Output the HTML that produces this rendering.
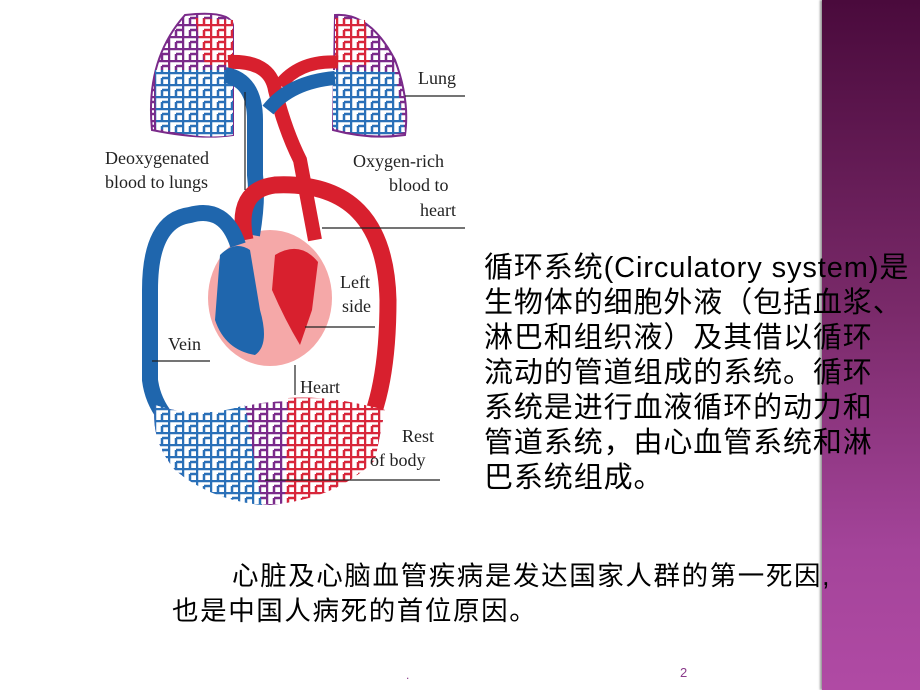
<!DOCTYPE html>
<html><head><meta charset="utf-8"><style>
html,body{margin:0;padding:0}
body{width:920px;height:690px;position:relative;overflow:hidden;background:#fff;font-family:"Liberation Sans","Noto Sans CJK SC",sans-serif}
.bar{position:absolute;left:822px;top:0;width:98px;height:690px;background:linear-gradient(#4a0a3c,#7a2a6a 45%,#a4449a 80%,#b04aa4);box-shadow:-2px 0 2px #999}
.t{position:absolute;left:484px;top:251px;font-size:29px;line-height:35px;color:#000;white-space:nowrap;letter-spacing:0.9px;z-index:2}
.b{position:absolute;font-size:26.5px;color:#000;white-space:nowrap;letter-spacing:1.6px;z-index:2}
.lab{font-family:"Liberation Serif",serif;font-size:18px;fill:#222}
</style></head><body>
<div class="bar"></div>
<svg width="820" height="690" style="position:absolute;left:0;top:0">
<defs>
<pattern id="mr" width="14" height="12" patternUnits="userSpaceOnUse"><rect width="14" height="12" fill="#fff"/><path d="M0 1H14M1 0V12M8 6H14M8 6V12" stroke="#d8263a" stroke-width="2.5"/></pattern>
<pattern id="mb" width="14" height="12" patternUnits="userSpaceOnUse"><rect width="14" height="12" fill="#fff"/><path d="M0 1H14M1 0V12M8 6H14M8 6V12" stroke="#2a70b8" stroke-width="2.5"/></pattern>
<pattern id="mp" width="14" height="12" patternUnits="userSpaceOnUse"><rect width="14" height="12" fill="#fff"/><path d="M0 1H14M1 0V12M8 6H14M8 6V12" stroke="#7a2a8a" stroke-width="2.5"/></pattern>
</defs>
<path d="M185 15 Q230 10 233 25 L233 135 Q200 140 152 130 Q145 60 185 15Z" fill="url(#mp)" stroke="#7a2a8a" stroke-width="2"/>
<path d="M195 18 L233 20 L233 65 L205 65Z" fill="url(#mr)"/>
<path d="M155 70 L233 70 L233 135 Q200 140 156 128Z" fill="url(#mb)"/>
<path d="M335 15 Q370 12 395 60 Q410 100 405 135 Q370 140 333 130Z" fill="url(#mp)" stroke="#7a2a8a" stroke-width="2"/>
<path d="M335 18 L365 20 L370 65 L335 65Z" fill="url(#mr)"/>
<path d="M333 70 L395 72 L405 132 Q370 140 333 128Z" fill="url(#mb)"/>
<ellipse cx="270" cy="298" rx="62" ry="68" fill="#f5a8a8"/>
<path d="M228 62 Q270 60 275 90 Q285 130 300 160 L315 240" fill="none" stroke="#d8202e" stroke-width="14"/>
<path d="M338 62 Q300 60 280 85" fill="none" stroke="#d8202e" stroke-width="13"/>
<path d="M225 75 Q255 80 255 120 L255 175 Q258 200 252 235" fill="none" stroke="#1f66ad" stroke-width="16"/>
<path d="M335 78 Q290 82 268 110" fill="none" stroke="#1f66ad" stroke-width="14"/>
<path d="M245 240 Q235 190 275 185 Q385 180 388 300 Q388 440 330 470" fill="none" stroke="#d8202e" stroke-width="17"/>
<path d="M238 245 Q225 205 190 215 Q150 220 150 290 L150 380 Q155 420 200 445" fill="none" stroke="#1f66ad" stroke-width="16"/>
<path d="M220 255 Q235 240 250 250 L260 310 Q270 345 255 355 Q225 350 215 320Z" fill="#1f66ad"/>
<path d="M275 255 Q300 240 318 262 L312 310 L300 345 Q285 320 272 290Z" fill="#d8202e"/>
<path d="M155 405 Q200 420 250 405 Q300 395 385 410 L375 460 Q330 500 270 505 Q210 500 175 470 Q150 440 155 405Z" fill="url(#mp)"/>
<path d="M155 405 Q200 420 245 405 L262 505 Q210 500 175 470 Q150 440 155 405Z" fill="url(#mb)"/>
<path d="M288 398 Q330 395 385 410 L375 460 Q340 495 285 503Z" fill="url(#mr)"/>
<g stroke="#222" stroke-width="1.2">
<line x1="245" y1="92" x2="245" y2="190"/>
<line x1="405" y1="96" x2="465" y2="96"/>
<line x1="322" y1="228" x2="465" y2="228"/>
<line x1="305" y1="327" x2="375" y2="327"/>
<line x1="152" y1="361" x2="210" y2="361"/>
<line x1="295" y1="365" x2="295" y2="395"/>
<line x1="265" y1="480" x2="440" y2="480"/>
</g>
<text class="lab" x="418" y="84">Lung</text>
<text class="lab" x="105" y="164">Deoxygenated</text>
<text class="lab" x="105" y="188">blood to lungs</text>
<text class="lab" x="353" y="167">Oxygen-rich</text>
<text class="lab" x="389" y="191">blood to</text>
<text class="lab" x="420" y="216">heart</text>
<text class="lab" x="340" y="288">Left</text>
<text class="lab" x="342" y="312">side</text>
<text class="lab" x="168" y="350">Vein</text>
<text class="lab" x="300" y="393">Heart</text>
<text class="lab" x="402" y="442">Rest</text>
<text class="lab" x="370" y="466">of body</text>
</svg>
<div class="t">循环系统(Circulatory system)是<br>生物体的细胞外液（包括血浆、<br>淋巴和组织液）及其借以循环<br>流动的管道组成的系统。循环<br>系统是进行血液循环的动力和<br>管道系统，由心血管系统和淋<br>巴系统组成。</div>
<div class="b" style="left:232px;top:554px">心脏及心脑血管疾病是发达国家人群的第一死因,</div>
<div class="b" style="left:172px;top:589px">也是中国人病死的首位原因。</div>
<div style="position:absolute;left:406px;top:668px;font-size:12px;color:#8a3a8a">.</div>
<div style="position:absolute;left:680px;top:665px;font-size:13px;color:#8a3a8a">2</div>
</body></html>
